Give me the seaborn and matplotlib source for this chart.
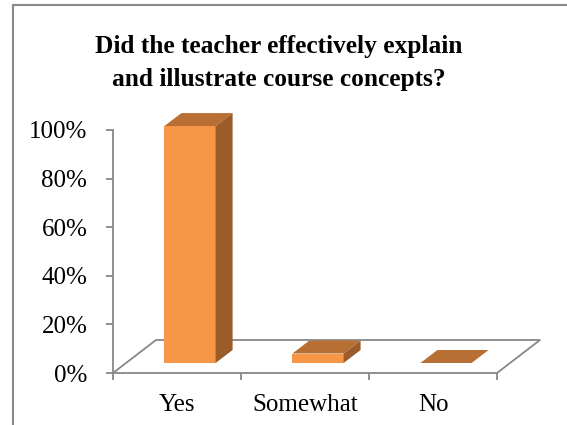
import numpy as np
import pandas as pd
import matplotlib
matplotlib.use("Agg")
import matplotlib.pyplot as plt
from matplotlib.patches import Polygon, Rectangle
import seaborn as sns

# data
categories = ["Yes", "Somewhat", "No"]
percent = [100, 4, 0]
yticks = [0, 20, 40, 60, 80, 100]
title = "Did the teacher effectively explain\nand illustrate course concepts?"

W, H = 567, 425
px_cat = 128.0          # pixels per category
px_pct = 2.43           # pixels per percent
depth = (43 / px_cat, 33 / px_pct)      # floor depth in data units
front = (13 / px_cat, 10 / px_pct)      # bar front offset from floor edge
bdepth = (17 / px_cat, 13 / px_pct)     # bar depth
shrink = 0.975
gray = "#888888"
face = "#F79646"
top_c = "#B86F34"
side_c = "#9C5C2A"

sns.set_style("white")
plt.rcParams["font.family"] = ["Liberation Serif", "DejaVu Serif"]
plt.rcParams["text.color"] = "black"
plt.rcParams["xtick.labelcolor"] = "black"
plt.rcParams["ytick.labelcolor"] = "black"

fig = plt.figure(figsize=(W / 100, H / 100), dpi=100)
x0, x1, ytop, ybot = 113, 545, 110, 373
ax = fig.add_axes([x0 / W, (H - ybot) / H, (x1 - x0) / W, (ybot - ytop) / H])

df = pd.DataFrame({"cat": categories, "pct": percent})
sns.barplot(data=df, x="cat", y="pct", order=categories, color=face,
            width=0.4, saturation=1, ax=ax, zorder=3, linewidth=0)

ax.set_xlim(-0.5, -0.5 + (x1 - x0) / px_cat)
ax.set_ylim(0, (ybot - ytop) / px_pct)

# floor
n = len(categories)
fx = [-0.5, -0.5 + depth[0], n - 0.5 + depth[0], n - 0.5]
fy = [0, depth[1], depth[1], 0]
ax.plot(fx, fy, color=gray, lw=1.3, zorder=1, clip_on=False)

# 3d faces on each bar
for p in ax.patches[:n]:
    h = p.get_height() * shrink
    bx = p.get_x() + front[0]
    by = front[1]
    w = p.get_width()
    p.set_x(bx)
    p.set_y(by)
    p.set_height(h)
    dx, dy = bdepth
    top = Polygon([(bx, by + h), (bx + w, by + h), (bx + w + dx, by + h + dy),
                   (bx + dx, by + h + dy)], closed=True, color=top_c, lw=0, zorder=3)
    side = Polygon([(bx + w, by), (bx + w + dx, by + dy), (bx + w + dx, by + h + dy),
                    (bx + w, by + h)], closed=True, color=side_c, lw=0, zorder=3)
    ax.add_patch(top)
    if h > 0:
        ax.add_patch(side)

for s in ["top", "right"]:
    ax.spines[s].set_visible(False)
ax.spines["left"].set_bounds(0, 100)
ax.spines["bottom"].set_bounds(-0.5, n - 0.5)
for s in ["left", "bottom"]:
    ax.spines[s].set_color(gray)
    ax.spines[s].set_linewidth(1.3)

ax.set_yticks(yticks)
ax.set_yticklabels([f"{t}%" for t in yticks])
ax.set_xticks(range(n))
ax.set_xticklabels(categories)
ax.set_xticks(np.arange(n + 1) - 0.5, minor=True)
ax.tick_params(axis="y", direction="out", length=5, width=1.3, color=gray,
               pad=13.5, labelsize=18, left=True, labelcolor="black")
ax.tick_params(axis="x", which="major", length=0, pad=15, labelsize=18,
               labelcolor="black")
ax.tick_params(axis="x", which="minor", direction="out", length=5, width=1.3,
               color=gray, bottom=True)
ax.set_xlabel("")
ax.set_ylabel("")

fig.text(279 / W, 1 - 53 / H, "Did the teacher effectively explain", ha="center",
         va="baseline", fontsize=18.3, fontweight="bold", color="black")
fig.text(279 / W, 1 - 86 / H, "and illustrate course concepts?", ha="center",
         va="baseline", fontsize=18.3, fontweight="bold", color="black")

fig.patches.append(Rectangle((13 / W, -0.1), 2, 1 - 5 / H + 0.1, transform=fig.transFigure,
                             fill=False, edgecolor=gray, lw=1.5))

fig.savefig("out.png", dpi=100)
